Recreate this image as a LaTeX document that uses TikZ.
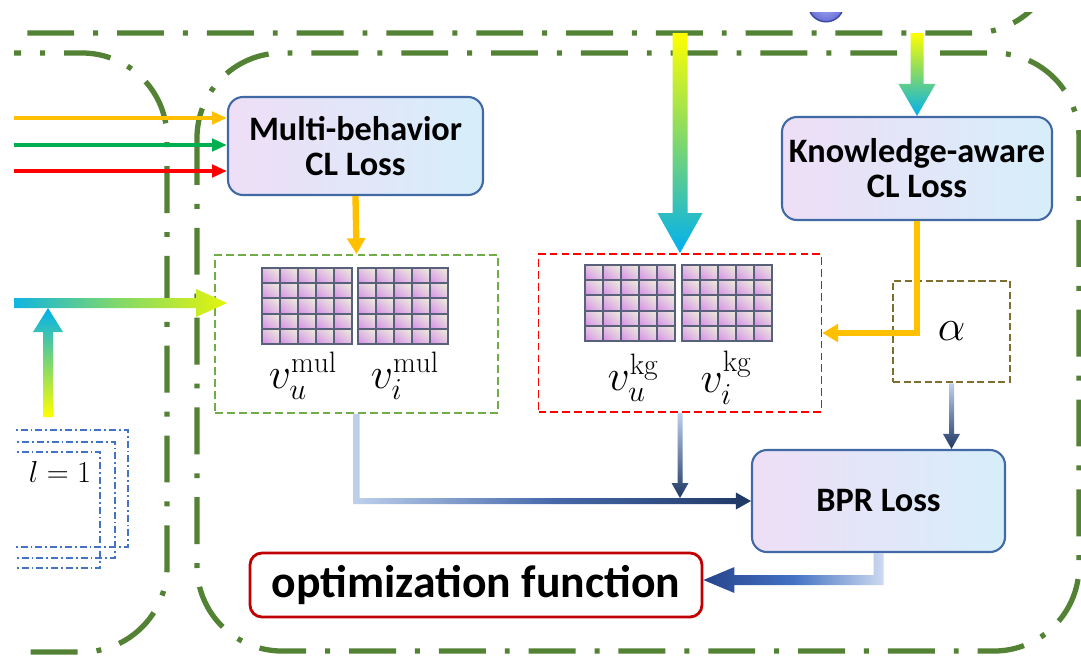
\documentclass[tikz,border=0pt]{standalone}
\usepackage{amsmath}
\usepackage{fontspec}
\setsansfont{Carlito}
\usepackage{tikz}
\usetikzlibrary{calc, arrows.meta, shadings}

\definecolor{frameG}{RGB}{84,130,53}
\definecolor{lossL}{RGB}{238,222,246}
\definecolor{lossR}{RGB}{214,238,250}
\definecolor{lossB}{RGB}{65,105,165}
\definecolor{cOrange}{RGB}{255,192,0}
\definecolor{cGreen}{RGB}{0,176,80}
\definecolor{cRed}{RGB}{255,0,0}
\definecolor{gYellow}{RGB}{255,255,0}
\definecolor{gCyan}{RGB}{0,176,240}
\definecolor{gLime}{RGB}{228,245,10}
\definecolor{gMid}{RGB}{125,215,110}
\definecolor{navyL}{RGB}{190,208,236}
\definecolor{navyM}{RGB}{70,105,170}
\definecolor{navyD}{RGB}{31,56,100}
\definecolor{optD}{RGB}{38,68,140}
\definecolor{optM}{RGB}{68,114,196}
\definecolor{optL}{RGB}{205,218,240}
\definecolor{optRed}{RGB}{192,0,0}
\definecolor{mulG}{RGB}{112,173,71}
\definecolor{alphaB}{RGB}{127,111,47}
\definecolor{layB}{RGB}{68,114,196}
\definecolor{cellP}{RGB}{214,140,232}
\definecolor{cellM}{RGB}{226,196,226}
\definecolor{cellL}{RGB}{236,240,216}
\definecolor{cellE}{RGB}{88,96,122}
\definecolor{ballL}{RGB}{170,175,240}
\definecolor{ballP}{RGB}{105,112,215}
\definecolor{ballE}{RGB}{60,72,160}

% shaded arrow pointing down: shading, tail, tip, half shaft, half head, head length
\newcommand{\gradarrowdown}[6]{%
  \shade[#1] ($(#2)+(-#4,0)$) -- ($(#3)+(-#4,-#6)$) -- ($(#3)+(-#5,-#6)$) -- (#3)
    -- ($(#3)+(#5,-#6)$) -- ($(#3)+(#4,-#6)$) -- ($(#2)+(#4,0)$) -- cycle;}

\begin{document}
\begin{tikzpicture}[x=0.2mm, y=-0.2mm,
    frame/.style={draw=frameG, line width=3pt, rounded corners=17mm,
        dash pattern=on 26.7pt off 10.8pt on 2.8pt off 10.8pt},
    lossbox/.style={draw=lossB, line width=1.2pt, rounded corners=3mm,
        left color=lossL, right color=lossR, inner sep=1mm, align=center,
        font=\sffamily\bfseries\fontsize{19.5}{20}\selectfont},
    optbox/.style={draw=optRed, line width=1.6pt, rounded corners=2.4mm, fill=white,
        inner sep=1mm, font=\sffamily\bfseries\fontsize{26}{30}\selectfont},
    embbox/.style={line width=1pt, dash pattern=on 4.5pt off 2.3pt,
        minimum width=56.6mm, minimum height=31.6mm},
    alphabox/.style={draw=alphaB, line width=1.6pt, dash pattern=on 4pt off 2pt,
        minimum width=23.4mm, minimum height=20.2mm, font=\fontsize{24}{28}\selectfont},
    inarrow/.style={line width=2.3pt, -{Triangle[length=8.5pt, width=7pt]}},
    orangeline/.style={draw=cOrange, line width=3.6pt, -{Triangle[length=9pt, width=10pt]}},
    cell/.style={draw=cellE, line width=1.1pt, lower left=cellP, upper right=cellL,
        upper left=cellM, lower right=cellM},
    embl/.style={inner sep=0pt, font=\fontsize{24}{28}\selectfont},
    layrect/.style={draw=layB, line width=1pt, dash pattern=on 4pt off 1.7pt on 1pt off 1.7pt},
    embgrid/.pic={
        \foreach \i in {0,...,4}
            \foreach \j in {0,...,4}
                \shadedraw[cell] (\i*18,\j*15.2) rectangle ++(18,15.2);
    }]

    \path[use as bounding box, fill=white] (0,0) rectangle (1081,657);
    \clip (14,12) rectangle (1081,657);

    % part of the upper panel
    \shade[inner color=ballL, outer color=ballP, draw=ballE, line width=0.8pt] (826,4) circle (17.8);
    \draw[frame] (-300,-300) rectangle (1058,33);
    % layer panel on the left
    \draw[frame] (-300,53) rectangle (167,652);
    \draw[layrect] (-10,430) rectangle (128,547);
    \draw[layrect] (-10,442) rectangle (115,558);
    \draw[layrect] (-10,452) rectangle (100,568);
    \node[inner sep=0pt, font=\fontsize{18}{22}\selectfont] (lay) at (60,472) {$l=1$};
    % optimization panel
    \draw[frame] (197,53) rectangle (1079,651);

    % boxes
    \node[lossbox, minimum width=51mm, minimum height=19.6mm] (mbox) at (355.5,146) {Multi-behavior\\CL Loss};
    \node[lossbox, minimum width=54mm, minimum height=20.6mm] (kbox) at (917,168.5) {Knowledge-aware\\CL Loss};
    \node[lossbox, minimum width=50.6mm, minimum height=20.4mm] (bpr) at (878.5,501) {BPR Loss};
    \node[optbox, minimum width=90.4mm, minimum height=12.8mm] (opt) at (476,585) {optimization function};
    \node[embbox, draw=mulG] (mulbox) at (356.5,334) {};
    \node[embbox, draw=cRed] (kgbox) at (680,333) {};
    \node[alphabox] (alpha) at (951.5,331.5) {$\alpha$};

    % embedding tables
    \pic at (262,268) {embgrid};
    \pic at (358,268) {embgrid};
    \pic at (585,265) {embgrid};
    \pic at (682,265) {embgrid};
    \node[embl] (mulu) at (303,376) {$v_u^{\mathrm{mul}}$};
    \node[embl] (muli) at (405,376) {$v_i^{\mathrm{mul}}$};
    \node[embl] (kgu) at (633,378) {$v_u^{\mathrm{kg}}$};
    \node[embl] (kgi) at (726,378) {$v_i^{\mathrm{kg}}$};

    % inputs from the layers
    \coordinate (inO) at (0,118);
    \coordinate (inG) at (0,145);
    \coordinate (inR) at (0,171);
    \draw[inarrow, cOrange] (inO) -- (inO -| mbox.west);
    \draw[inarrow, cGreen] (inG) -- (inG -| mbox.west);
    \draw[inarrow, cRed] (inR) -- (inR -| mbox.west);

    \coordinate (inB) at (0,303);
    \coordinate (inC) at (48,417);
    \coordinate (mulTip) at ($(inB -| mulbox.west)+(13,0)$);
    \coordinate (upTip) at ($(inC |- inB)+(0,5)$);
    \shade[left color=gCyan, right color=gLime, middle color=gMid]
        ($(inB)+(0,-5)$) -- ($(mulTip)+(-31,-5)$) -- ($(mulTip)+(-31,-14)$) -- (mulTip)
        -- ($(mulTip)+(-31,14)$) -- ($(mulTip)+(-31,5)$) -- ($(inB)+(0,5)$) -- cycle;
    \shade[top color=gCyan, bottom color=gYellow, middle color=gMid]
        ($(inC)+(-5,0)$) -- ($(upTip)+(-5,24)$) -- ($(upTip)+(-15,24)$) -- (upTip)
        -- ($(upTip)+(15,24)$) -- ($(upTip)+(5,24)$) -- ($(inC)+(5,0)$) -- cycle;

    % knowledge graph inputs
    \coordinate (topA) at (680,33);
    \coordinate (topB) at (917,33);
    \gradarrowdown{top color=gYellow, bottom color=gCyan, middle color=gMid}{topA}{kgbox.north}{7.5}{22.5}{40}
    \gradarrowdown{top color=gYellow, bottom color=gCyan, middle color=gMid}{topB}{kbox.north}{6.5}{18.5}{32}

    % losses
    \draw[orangeline] (mbox.south) -- (mulbox.north);
    \draw[orangeline] (kbox.south) |- (kgbox.east);

    \coordinate (alphaTip) at (alpha.south |- bpr.north);
    \coordinate (kgTip) at ($(kgbox.south |- bpr.west)+(0,-3)$);
    \gradarrowdown{top color=navyL, bottom color=navyD}{alpha.south}{alphaTip}{2.5}{8.5}{15}
    \shade[left color=navyL, right color=navyD, middle color=navyM]
        ($(mulbox.south)+(-3,0)$) |- ($(bpr.west)+(-15,3)$) -- ($(bpr.west)+(-15,8.5)$) -- (bpr.west)
        -- ($(bpr.west)+(-15,-8.5)$) -- ($(bpr.west)+(-15,-3)$) -| ($(mulbox.south)+(3,0)$) -- cycle;
    \gradarrowdown{top color=navyL, bottom color=navyD}{kgbox.south}{kgTip}{2.5}{8.5}{15}

    \coordinate (optTip) at ($(opt.east)+(0,-5)$);
    \shade[left color=optD, right color=optL, middle color=optM]
        ($(bpr.south)+(5,0)$) |- ($(optTip)+(31,5)$) -- ($(optTip)+(31,13)$) -- (optTip)
        -- ($(optTip)+(31,-13)$) -- ($(optTip)+(31,-5)$) -| ($(bpr.south)+(-5,0)$) -- cycle;
\end{tikzpicture}
\end{document}
